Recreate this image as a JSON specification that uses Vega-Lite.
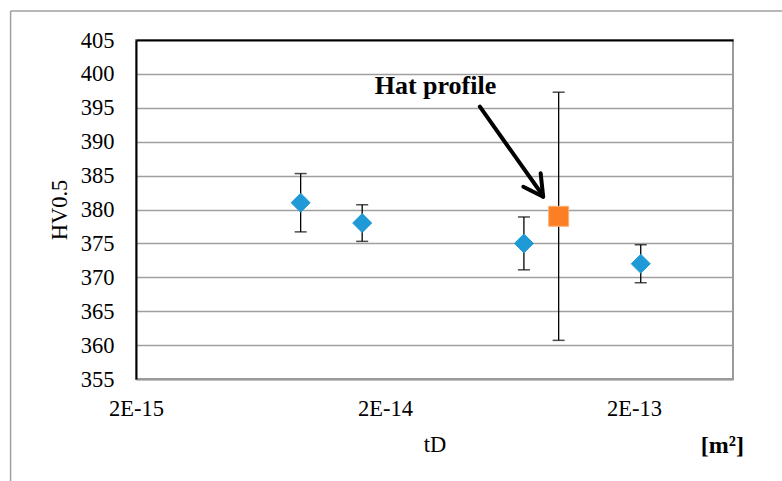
{
  "$schema": "https://vega.github.io/schema/vega-lite/v6.json",
  "width": 597,
  "height": 339,
  "autosize": "none",
  "padding": {"left": 136, "top": 40, "right": 49, "bottom": 102},
  "background": "white",
  "config": {
    "view": {"stroke": "#9a9a9a", "strokeWidth": 2},
    "font": "Liberation Serif",
    "style": {"guide-label": {"font": "Liberation Serif", "fontSize": 22.5, "fill": "black"}, "guide-title": {"font": "Liberation Serif", "fontSize": 22.5, "fill": "black"}},
    "axis": {
      "labelFont": "Liberation Serif",
      "titleFont": "Liberation Serif",
      "labelFontSize": 22.5,
      "titleFontSize": 22.5,
      "titleFontWeight": "normal",
      "labelColor": "black",
      "titleColor": "black",
      "ticks": false,
      "tickSize": 0
    }
  },
  "datasets": {
    "pts": [
      {"x": 9.17e-15, "y": 381, "series": "HV"},
      {"x": 1.62e-14, "y": 378, "series": "HV"},
      {"x": 7.23e-14, "y": 375, "series": "HV"},
      {"x": 9.97e-14, "y": 379, "series": "Hat profile"},
      {"x": 2.13e-13, "y": 372, "series": "HV"}
    ],
    "errs": [
      {"x": 9.17e-15, "y": 376.7, "y2": 385.3},
      {"x": 1.62e-14, "y": 375.3, "y2": 380.7},
      {"x": 7.23e-14, "y": 371.1, "y2": 378.9},
      {"x": 9.97e-14, "y": 360.7, "y2": 397.3},
      {"x": 2.13e-13, "y": 369.2, "y2": 374.8}
    ],
    "caps": [
      {"x": 9.17e-15, "y": 376.7}, {"x": 9.17e-15, "y": 385.3},
      {"x": 1.62e-14, "y": 375.3}, {"x": 1.62e-14, "y": 380.7},
      {"x": 7.23e-14, "y": 371.1}, {"x": 7.23e-14, "y": 378.9},
      {"x": 9.97e-14, "y": 360.7}, {"x": 9.97e-14, "y": 397.3},
      {"x": 2.13e-13, "y": 369.2}, {"x": 2.13e-13, "y": 374.8}
    ],
    "arrow": [
      {"x": 4.81e-14, "y": 395.16, "x2": 8.6e-14, "y2": 382.1},
      {"x": 7.19e-14, "y": 383.36, "x2": 8.64e-14, "y2": 381.89},
      {"x": 8.44e-14, "y": 385.34, "x2": 8.64e-14, "y2": 381.89}
    ],
    "frame": [
      {"x": 6.27e-16, "y": 409.28, "x2": 6.27e-16, "y2": 330},
      {"x": 6.27e-16, "y": 409.28, "x2": 9e-13, "y2": 409.28}
    ],
    "hat": [{"x": 3.19e-14, "y": 397, "text": "Hat profile"}],
    "unit": [{"x": 4.53e-13, "y": 344.13, "text": "[m²]"}]
  },
  "encoding": {
    "x": {
      "field": "x", "type": "quantitative", "title": "tD",
      "scale": {"type": "log", "domain": [2e-15, 5e-13], "nice": false},
      "axis": {
        "values": [2e-15, 2e-14, 2e-13],
        "labelExpr": "replace(format(datum.value, '.0e'), 'e', 'E')",
        "labelFont": "Liberation Serif",
        "labelFontSize": 22.5,
        "labelColor": "black",
        "titleFont": "Liberation Serif",
        "titleFontSize": 22.5,
        "titleFontWeight": "normal",
        "grid": false,
        "domainColor": "#9a9a9a",
        "domainWidth": 2,
        "labelFlush": false,
        "labelOverlap": false,
        "labelBaseline": "alphabetic",
        "labelPadding": 36,
        "titleBaseline": "alphabetic",
        "titleY": 72.7
      }
    },
    "y": {
      "field": "y", "type": "quantitative", "title": "HV0.5",
      "scale": {"domain": [355, 405], "nice": false, "zero": false},
      "axis": {
        "values": [355, 360, 365, 370, 375, 380, 385, 390, 395, 400, 405],
        "labelFont": "Liberation Serif",
        "labelFontSize": 22.5,
        "labelColor": "black",
        "titleFont": "Liberation Serif",
        "titleFontSize": 22.5,
        "titleFontWeight": "normal",
        "grid": true,
        "gridColor": {"condition": {"test": "datum.value === 405", "value": "black"}, "value": "#a0a0a0"},
        "gridWidth": {"condition": {"test": "datum.value === 405", "value": 2.2}, "value": 1.5},
        "domainColor": "black",
        "domainWidth": 2,
        "labelPadding": 22,
        "labelOverlap": false,
        "titleAngle": 270,
        "titleBaseline": "alphabetic",
        "titleX": -69.3,
        "titleY": 169.5,
        "titleAlign": "center"
      }
    }
  },
  "layer": [
    {
      "data": {"name": "errs"},
      "mark": {"type": "rule", "color": "black", "strokeWidth": 1.3},
      "encoding": {"y2": {"field": "y2"}}
    },
    {
      "data": {"name": "caps"},
      "mark": {"type": "tick", "orient": "horizontal", "size": 12, "thickness": 1.5, "color": "black"},
      "encoding": {}
    },
    {
      "data": {"name": "pts"},
      "mark": {"type": "point", "filled": true, "opacity": 1, "strokeWidth": 1},
      "encoding": {
        "shape": {"field": "series", "type": "nominal", "scale": {"domain": ["HV", "Hat profile"], "range": ["diamond", "square"]}, "legend": null},
        "color": {"field": "series", "type": "nominal", "scale": {"domain": ["HV", "Hat profile"], "range": ["#1f9ad6", "#fd7f24"]}, "legend": null},
        "stroke": {"field": "series", "type": "nominal", "scale": {"domain": ["HV", "Hat profile"], "range": ["#1f9ad6", "#f9b27c"]}, "legend": null},
        "size": {"field": "series", "type": "nominal", "scale": {"domain": ["HV", "Hat profile"], "range": [361, 400]}, "legend": null}
      }
    },
    {
      "data": {"name": "arrow"},
      "mark": {"type": "rule", "color": "black", "strokeWidth": 4, "strokeCap": "round"},
      "encoding": {"x2": {"field": "x2"}, "y2": {"field": "y2"}}
    },
    {
      "data": {"name": "frame"},
      "mark": {"type": "rule", "color": "#a0a0a0", "strokeWidth": 1.5, "clip": false},
      "encoding": {"x2": {"field": "x2"}, "y2": {"field": "y2"}}
    },
    {
      "data": {"name": "hat"},
      "mark": {"type": "text", "font": "Liberation Serif", "fontWeight": "bold", "fontSize": 26, "align": "center", "baseline": "alphabetic", "color": "black", "clip": false},
      "encoding": {"text": {"field": "text"}}
    },
    {
      "data": {"name": "unit"},
      "mark": {"type": "text", "font": "Liberation Serif", "fontWeight": "bold", "fontSize": 24, "align": "center", "baseline": "alphabetic", "color": "black", "clip": false},
      "encoding": {"text": {"field": "text"}}
    }
  ]
}
